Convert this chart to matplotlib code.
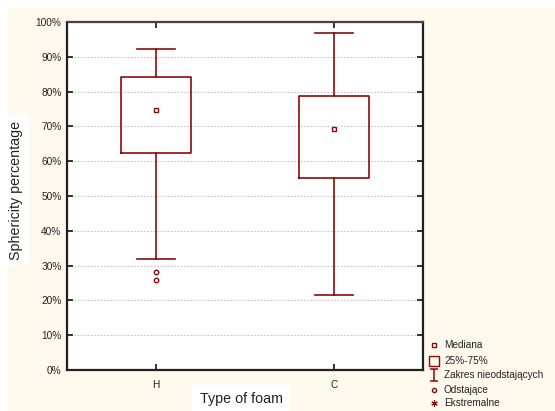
import matplotlib
matplotlib.use("Agg")
import matplotlib.pyplot as plt
from matplotlib.lines import Line2D
from matplotlib.patches import Rectangle
from matplotlib.path import Path
from matplotlib.ticker import PercentFormatter

plt.rcParams['font.family'] = ['Liberation Sans', 'DejaVu Sans']

# dane (%)
kategorie = ["H", "C"]
mediana = [74.7, 69.2]
q1 = [62.4, 55.2]
q3 = [84.2, 78.7]
wasy_dol = [32.0, 21.6]
wasy_gora = [92.1, 96.8]
odstajace = [[28.3, 25.9], []]
opisy = ["Mediana", "25%-75%", "Zakres nieodstających", "Odstające", "Ekstremalne"]

kolor = "#8B0A0A"
W, H = 555, 411

fig = plt.figure(figsize=(5.55, 4.11), dpi=100)
fig.patch.set_facecolor("white")
# kremowe tlo
fig.patches.append(Rectangle((8 / W, 0), 1, 1 - 8 / H,
                             transform=fig.transFigure, facecolor="#FFF9EE",
                             edgecolor="none", zorder=-10))

ax = fig.add_axes([67 / W, 41 / H, 356 / W, 348 / H])
ax.set_facecolor("white")

pozycje = [0.5, 1.5]
stats = []
for i, k in enumerate(kategorie):
    stats.append(dict(label=k, med=mediana[i], q1=q1[i], q3=q3[i],
                      whislo=wasy_dol[i], whishi=wasy_gora[i], fliers=odstajace[i]))

ax.bxp(stats, positions=pozycje, widths=0.39, showfliers=True,
       boxprops=dict(color=kolor, linewidth=1.2),
       whiskerprops=dict(color=kolor, linewidth=1.2),
       capprops=dict(color=kolor, linewidth=1.2),
       capwidths=0.21,
       medianprops=dict(linestyle="none"),
       flierprops=dict(marker="o", markersize=3.2, markerfacecolor="white",
                       markeredgecolor=kolor, markeredgewidth=1.0))
ax.plot(pozycje, mediana, linestyle="none", marker="s", markersize=3.5,
        markerfacecolor="white", markeredgecolor=kolor, markeredgewidth=1.0, zorder=5)

ax.set_xlim(0, 2)
ax.set_ylim(0, 100)
ax.set_yticks(range(0, 101, 10))
ax.yaxis.set_major_formatter(PercentFormatter(decimals=0))
ax.set_xticks(pozycje)
ax.set_xticklabels(kategorie)
ax.yaxis.grid(True, linestyle=(0, (1.5, 1.5)), color="#C4C4C4", linewidth=0.8)
ax.set_axisbelow(True)
ax.tick_params(axis="both", direction="in", labelsize=7.3, colors="#222222",
               length=4, width=1.3, top=True, right=True, pad=4)
ax.tick_params(axis="x", pad=7)
for s in ax.spines.values():
    s.set_linewidth(1.6)
    s.set_color("#222222")
ax.spines["top"].set_color("#444444")

etykieta = dict(fontsize=10.3, color="#222222")
fig.text(16 / W, 1 - 190 / H, "Sphericity percentage", rotation=90,
         ha="center", va="center",
         bbox=dict(facecolor="white", edgecolor="none", pad=4), **etykieta)
fig.text(241 / W, 1 - 399 / H, "Type of foam", ha="center", va="center",
         bbox=dict(facecolor="white", edgecolor="none", pad=5), **etykieta)

# legenda rysowana recznie
zakres = Path([(-0.7, 1), (0.7, 1), (0, 1), (0, -1), (-0.7, -1), (0.7, -1)],
              [Path.MOVETO, Path.LINETO, Path.MOVETO, Path.LINETO, Path.MOVETO, Path.LINETO])
symbole = [
    dict(marker="s", markersize=3.5, markerfacecolor="white", markeredgewidth=1.0),
    dict(marker="s", markersize=7.5, markerfacecolor="none", markeredgewidth=1.0),
    dict(marker=zakres, markersize=9, markerfacecolor="none", markeredgewidth=1.1),
    dict(marker="o", markersize=3, markerfacecolor="white", markeredgewidth=1.0),
    dict(marker=(6, 2, 0), markersize=4.5, markeredgewidth=0.8),
]
wiersze = [345, 361, 375, 390, 403]
for opis, sym, yy in zip(opisy, symbole, wiersze):
    fig.add_artist(Line2D([434 / W], [1 - yy / H], transform=fig.transFigure,
                          linestyle="none", markeredgecolor=kolor, **sym))
    fig.text(444 / W, 1 - yy / H, opis, ha="left", va="center",
             fontsize=7.2, color="#222222")

fig.savefig("out.png", dpi=100, facecolor=fig.get_facecolor())
